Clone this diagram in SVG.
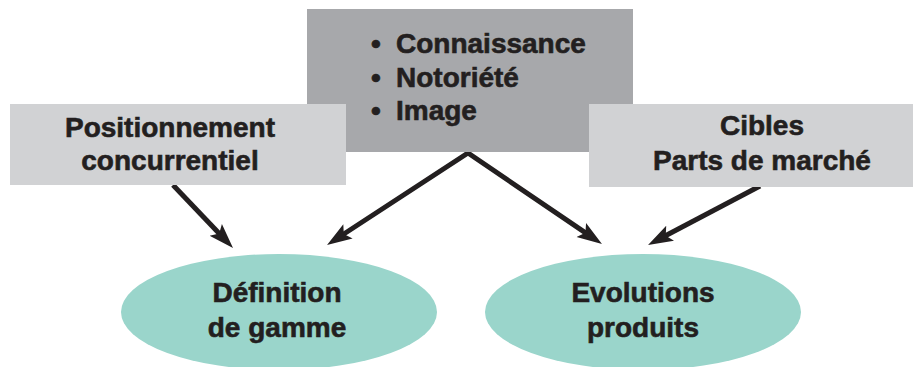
<svg xmlns="http://www.w3.org/2000/svg" width="913" height="367" viewBox="0 0 913 367">
  <style>
    .lbl { font-family: "Liberation Sans", Arial, sans-serif; font-weight: bold; font-size: 28px; fill: #231f20; stroke: #231f20; stroke-width: 0.6; }
    .mid { text-anchor: middle; }
    .box-dark { fill: #a7a8ab; }
    .box-light { fill: #d1d2d4; }
    .oval { fill: #9ad5cb; }
    .conn { fill: none; stroke: #231f20; stroke-width: 5; stroke-linejoin: miter; stroke-miterlimit: 10; }
  </style>
  <defs>
    <marker id="head" markerUnits="userSpaceOnUse" viewBox="0 0 25 19" markerWidth="25" markerHeight="19" refX="15" refY="9.5" orient="auto-start-reverse">
      <path d="M0,1 L25,9.5 L0,18 L5,9.5 z" fill="#231f20"/>
    </marker>
  </defs>

  <!-- connectors -->
  <g id="connectors">
    <line class="conn" x1="173" y1="185" x2="226.1" y2="240.8" marker-end="url(#head)"/>
    <path class="conn" d="M335.4,239.5 L468,153 L593.7,238.4" marker-start="url(#head)" marker-end="url(#head)"/>
    <line class="conn" x1="760" y1="186" x2="656.9" y2="240.3" marker-end="url(#head)"/>
  </g>

  <!-- brand attributes -->
  <g id="notoriete">
    <rect class="box-dark" x="307" y="9" width="326" height="143"/>
    <text class="lbl"><tspan x="371" y="53">•</tspan><tspan x="396" y="53">Connaissance</tspan></text>
    <text class="lbl"><tspan x="371" y="87">•</tspan><tspan x="396" y="87">Notoriété</tspan></text>
    <text class="lbl"><tspan x="371" y="120">•</tspan><tspan x="396" y="120">Image</tspan></text>
  </g>

  <g id="positionnement">
    <rect class="box-light" x="10" y="104" width="336" height="81"/>
    <text class="lbl mid" x="170" y="137">Positionnement</text>
    <text class="lbl mid" x="170" y="170">concurrentiel</text>
  </g>

  <g id="cibles">
    <rect class="box-light" x="589" y="104" width="324" height="83"/>
    <text class="lbl mid" x="762" y="135">Cibles</text>
    <text class="lbl mid" x="762" y="170">Parts de marché</text>
  </g>

  <g id="gamme">
    <ellipse class="oval" cx="279" cy="312" rx="158" ry="58"/>
    <text class="lbl mid" x="277" y="302">Définition</text>
    <text class="lbl mid" x="277" y="337">de gamme</text>
  </g>

  <g id="produits">
    <ellipse class="oval" cx="643" cy="312" rx="158" ry="58"/>
    <text class="lbl mid" x="643" y="302">Evolutions</text>
    <text class="lbl mid" x="643" y="337">produits</text>
  </g>
</svg>
